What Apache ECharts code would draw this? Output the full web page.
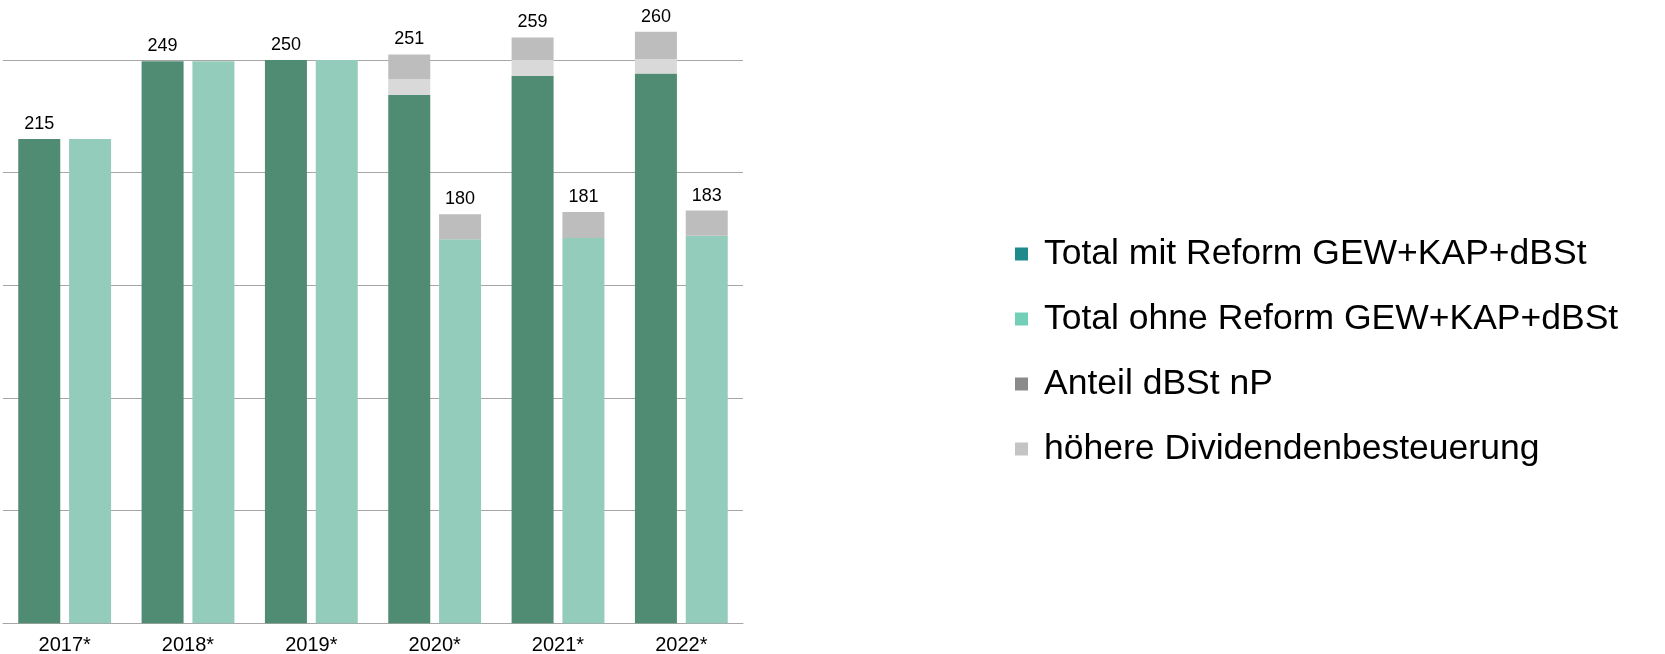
<!DOCTYPE html>
<html>
<head>
<meta charset="utf-8">
<script src="https://cdn.jsdelivr.net/npm/echarts@6/dist/echarts.min.js"></script>
<style>
  html, body { margin: 0; padding: 0; background: #ffffff; }
  #chart { width: 1665px; height: 654px; }
</style>
</head>
<body>
<div id="chart"></div>
<script>
// ---- data ----
const categories = ['2017*', '2018*', '2019*', '2020*', '2021*', '2022*'];
const mitReform = [215, 249.5, 250, 234.5, 243, 244];          // Total mit Reform GEW+KAP+dBSt
const hoehereMit = [null, null, null, 7, 7, 6.5];               // höhere Dividendenbesteuerung
const anteilMit = [null, null, null, 11, 10, 12];               // Anteil dBSt nP (on "mit" bars)
const ohneReform = [215, 249.5, 250, 170.5, 171, 172];          // Total ohne Reform GEW+KAP+dBSt
const anteilOhne = [null, null, null, 11, 11.5, 11.2];          // Anteil dBSt nP (on "ohne" bars)
const labelsMit = ['215', '249', '250', '251', '259', '260'];
const labelsOhne = [null, null, null, '180', '181', '183'];
const legendNames = ['Total mit Reform GEW+KAP+dBSt', 'Total ohne Reform GEW+KAP+dBSt', 'Anteil dBSt nP', 'höhere Dividendenbesteuerung'];

const FONT = 'Liberation Sans, Arial, sans-serif';
const labelBase = { show: false, position: 'top', distance: 6, fontSize: 18, color: '#000', fontFamily: FONT };

function topLabel(v, text) {
  return { value: v, label: { show: true, formatter: text } };
}
const greenMitData = mitReform.map((v, i) => anteilMit[i] == null ? topLabel(v, labelsMit[i]) : v);
const anteilMitData = anteilMit.map((v, i) => v == null ? null : topLabel(v, labelsMit[i]));
const greenOhneData = ohneReform.map((v) => v);
const anteilOhneData = anteilOhne.map((v, i) => v == null ? null : topLabel(v, labelsOhne[i]));

const barCommon = { type: 'bar', barWidth: 42, barGap: '21%', label: labelBase };

const chart = echarts.init(document.getElementById('chart'), null, { renderer: 'canvas' });
chart.setOption({
  animation: false,
  backgroundColor: '#ffffff',
  grid: { left: 3, width: 740, top: 3.7, bottom: 30.7, containLabel: false, outerBoundsMode: 'none' },
  xAxis: {
    type: 'category',
    data: categories,
    axisLine: { show: true, lineStyle: { color: '#a6a6a6', width: 1 } },
    axisTick: { show: false },
    axisLabel: { fontSize: 20, color: '#000', margin: 12, fontFamily: FONT }
  },
  yAxis: {
    type: 'value',
    min: 0, max: 275, interval: 50,
    axisLabel: { show: false },
    axisLine: { show: false },
    axisTick: { show: false },
    splitLine: { show: true, showMaxLine: false, showMinLine: false, lineStyle: { color: '#a6a6a6', width: 1 } }
  },
  legend: {
    orient: 'vertical',
    left: 1010,
    top: 229,
    itemWidth: 35,
    itemHeight: 13,
    itemGap: 25,
    textStyle: { fontSize: 35.5, lineHeight: 40, color: '#000', fontFamily: FONT },
    data: [
      { name: legendNames[0], icon: 'path://M0,0H10V10H0Z', itemStyle: { color: '#1f8a8c' } },
      { name: legendNames[1], icon: 'path://M0,0H10V10H0Z', itemStyle: { color: '#74cfb9' } },
      { name: legendNames[2], icon: 'path://M0,0H10V10H0Z', itemStyle: { color: '#8a8a8a' } },
      { name: legendNames[3], icon: 'path://M0,0H10V10H0Z', itemStyle: { color: '#c4c4c4' } }
    ]
  },
  series: [
    Object.assign({}, barCommon, { name: legendNames[0], stack: 'mit', data: greenMitData, itemStyle: { color: '#508c74' } }),
    Object.assign({}, barCommon, { name: legendNames[3], stack: 'mit', data: hoehereMit, itemStyle: { color: '#d9d9d9' } }),
    Object.assign({}, barCommon, { name: legendNames[2], stack: 'mit', data: anteilMitData, itemStyle: { color: '#bdbdbd' } }),
    Object.assign({}, barCommon, { name: legendNames[1], stack: 'ohne', data: greenOhneData, itemStyle: { color: '#94ccbc' } }),
    Object.assign({}, barCommon, { name: legendNames[2], stack: 'ohne', data: anteilOhneData, itemStyle: { color: '#bdbdbd' } })
  ]
});
</script>
</body>
</html>
